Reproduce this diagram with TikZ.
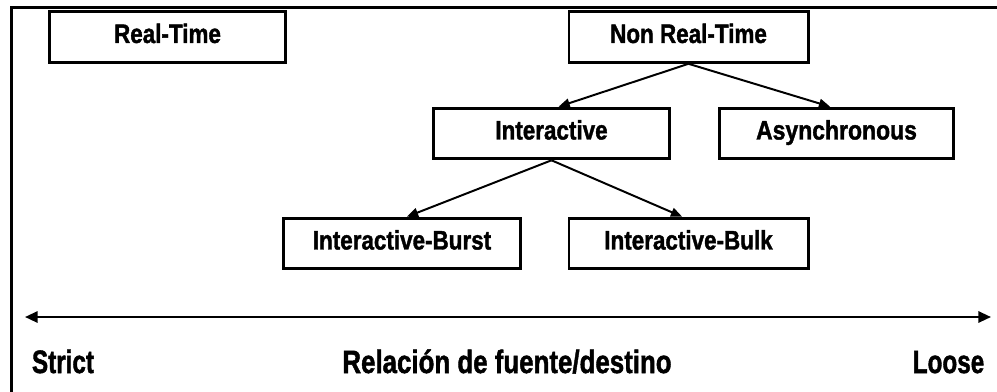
\documentclass[tikz,border=0pt]{standalone}
\usepackage{fontspec}
\setmainfont{Liberation Sans}[BoldFeatures={FakeBold=1.6}]
\usetikzlibrary{arrows.meta}
\newcommand{\narrow}[2][0.84]{\scalebox{#1}[1]{#2}}
\tikzset{
  cls/.style={draw, line width=2.1pt, inner sep=0pt, minimum height=36pt,
    text height=0.85em, text depth=0em,
    font=\bfseries\fontsize{19}{21}\selectfont},
  axlabel/.style={font=\bfseries\fontsize{23}{26}\selectfont, inner sep=0pt, anchor=base},
  link/.style={-{Triangle[length=8pt,width=6.5pt]}, line width=1.4pt}
}
\begin{document}
\begin{tikzpicture}[x=0.025cm, y=-0.025cm]
      \useasboundingbox (0,0) rectangle (997,391);
      %\draw [help lines] (0,0) grid (997,391);
      \draw[line width=2.3pt] (11.5,400) -- (11.5,7.5) -- (1010,7.5);

      \node[cls, minimum width=168pt] (rt) at (167.5,37) {\narrow{Real-Time}};
      \node[cls, minimum width=170pt] (nrt) at (688.5,37) {\narrow{Non Real-Time}};
      \node[cls, minimum width=168pt] (inter) at (551.5,133.5) {\narrow{Interactive}};
      \node[cls, minimum width=167pt] (async) at (836.5,133.5) {\narrow[0.86]{Asynchronous}};
      \node[cls, minimum width=168pt] (burst) at (402,243.5) {\narrow{Interactive-Burst}};
      \node[cls, minimum width=170pt] (bulk) at (688.5,243.5) {\narrow{Interactive-Bulk}};

      \draw[link] (nrt.south) to ([xshift=5pt]inter.north);
      \draw[link] (nrt.south) to ([xshift=-4.5pt]async.north);
      \draw[link] (inter.south) to ([xshift=3.5pt]burst.north);
      \draw[link] (inter.south) to ([xshift=-4.5pt]bulk.north);

      \coordinate (strictend) at (25,317);
      \coordinate (looseend) at (991,317);
      \draw[{Triangle[length=9pt,width=8pt]}-{Triangle[length=9pt,width=8pt]}, line width=1.6pt] (strictend) -- (looseend);

      \node[axlabel] (strict) at (63,373) {\narrow[0.75]{Strict}};
      \node[axlabel] (rel) at (507,373) {\narrow[0.8]{Relación de fuente/destino}};
      \node[axlabel] (loose) at (948.5,373) {\narrow[0.75]{Loose}};
    \end{tikzpicture}
\end{document}
